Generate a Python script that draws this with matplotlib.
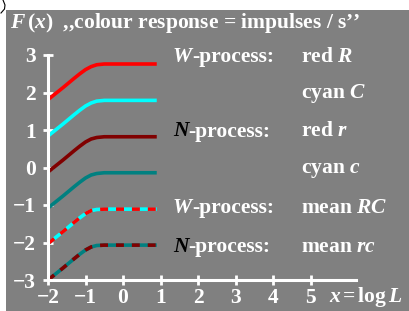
import matplotlib
matplotlib.use("Agg")
import matplotlib.pyplot as plt
from matplotlib.lines import Line2D

plt.rcParams['font.family'] = ['Liberation Serif', 'DejaVu Serif']
plt.rcParams['font.weight'] = 'bold'
plt.rcParams['mathtext.fontset'] = 'custom'
plt.rcParams['mathtext.rm'] = 'Liberation Serif:bold'
plt.rcParams['mathtext.it'] = 'Liberation Serif:italic:bold'
plt.rcParams['mathtext.bf'] = 'Liberation Serif:bold'

# data
x = [-2.0, -1.6, -1.3, -1.15, -1.0, -0.85, -0.7, -0.5, 0.9]
red_R = [1.81, 2.13, 2.38, 2.50, 2.61, 2.69, 2.74, 2.76, 2.76]
cyan_C = [0.84, 1.16, 1.41, 1.53, 1.64, 1.72, 1.77, 1.79, 1.79]
red_r = [-0.12, 0.20, 0.45, 0.57, 0.68, 0.76, 0.80, 0.82, 0.82]
cyan_c = [-1.08, -0.76, -0.51, -0.39, -0.28, -0.20, -0.16, -0.14, -0.14]
mean_RC = [-2.03, -1.71, -1.46, -1.34, -1.23, -1.15, -1.12, -1.11, -1.11]
mean_rc = [-3.0, -2.68, -2.43, -2.31, -2.20, -2.12, -2.08, -2.07, -2.07]

xticks = [-2, -1, 0, 1, 2, 3, 4, 5]
yticks = [-3, -2, -1, 0, 1, 2, 3]
label_rows = [2.95, 1.98, 0.96, -0.07, -1.08, -2.11]
proc_letters = ['W', None, 'N', None, 'W', 'N']
right_labels = ['red $R$', 'cyan $C$', 'red $r$', 'cyan $c$', 'mean $RC$', 'mean $rc$']

fs = 15.5

fig = plt.figure(figsize=(4.09, 3.11), dpi=100)
ax = fig.add_axes([6 / 409, 0, 403 / 409, 301 / 311])
ax.set_facecolor('#808080')
ax.set_xlim(-2 - 42 / 37.5, -2 + 361 / 37.5)
ax.set_ylim(-3 - 31 / 37.5, 3 + 45 / 37.5)

for s in ['top', 'right']:
    ax.spines[s].set_visible(False)
ax.spines['left'].set_position(('data', -2))
ax.spines['left'].set_bounds(-3, 3)
ax.spines['bottom'].set_position(('data', -3))
ax.spines['bottom'].set_bounds(-2, 6.2)
for s in ['left', 'bottom']:
    ax.spines[s].set_color('white')
    ax.spines[s].set_linewidth(2.2)

ax.set_xticks(xticks)
ax.set_yticks(yticks)
ax.set_xticklabels(['\u2212' + str(-t) if t < 0 else str(t) for t in xticks],
                   fontweight='bold')
ax.set_yticklabels(['\u2212' + str(-t) if t < 0 else str(t) for t in yticks],
                   fontweight='bold')
ax.tick_params(axis='both', colors='white', direction='inout', length=7, width=2,
               labelsize=fs)
ax.tick_params(axis='y', pad=5)
ax.tick_params(axis='x', pad=2)

lw = 2.6
ax.plot(x, red_R, color='#ff0000', lw=lw, solid_capstyle='butt')
ax.plot(x, cyan_C, color='#00ffff', lw=lw, solid_capstyle='butt')
ax.plot(x, red_r, color='#800000', lw=lw, solid_capstyle='butt')
ax.plot(x, cyan_c, color='#008080', lw=lw, solid_capstyle='butt')
ax.plot(x, mean_RC, color='#00ffff', lw=lw, solid_capstyle='butt')
ax.plot(x, mean_RC, color='#ff0000', lw=lw, dashes=(2.2, 2.2), dash_capstyle='butt')
ax.plot(x, mean_rc, color='#008080', lw=lw, solid_capstyle='butt')
ax.plot(x, mean_rc, color='#800000', lw=lw, dashes=(2.2, 2.2), dash_capstyle='butt')

# title
ax.text(-3.01, 3.86, '$F\\,(x)$  ,,colour response = impulses / s\u2019\u2019',
        color='white', fontsize=fs, fontweight='bold', va='center', ha='left')

# process labels
x_left = -2 + (173 - 48) / 37.5
x_right = -2 + (301 - 48) / 37.5
for yv, letter, rl in zip(label_rows, proc_letters, right_labels):
    if letter is not None:
        t = ax.text(x_left, yv, letter, style='italic', fontweight='bold', fontsize=fs,
                    color='white' if letter == 'W' else 'black', va='center', ha='left')
        ax.annotate('-process:', xy=(1, 0), xycoords=t, va='bottom', ha='left',
                    color='white', fontsize=fs, fontweight='bold')
    ax.text(x_right, yv, rl, color='white', fontsize=fs, fontweight='bold',
            va='center', ha='left')

ax.text(-2 + (329 - 48) / 37.5, -3 - (297 - 280) / 37.5, '$x\\,$=$\\,$log$\\,L$',
        color='white', fontsize=fs, fontweight='bold', va='center', ha='left')

# small curve fragment in the top-left corner
fig.add_artist(Line2D([3 / 409, 5 / 409, 4.5 / 409, 1 / 409],
                      [1, 1 - 5 / 311, 1 - 9 / 311, 1 - 13 / 311],
                      color='black', lw=0.8, transform=fig.transFigure))

fig.savefig('out.png', dpi=100)
